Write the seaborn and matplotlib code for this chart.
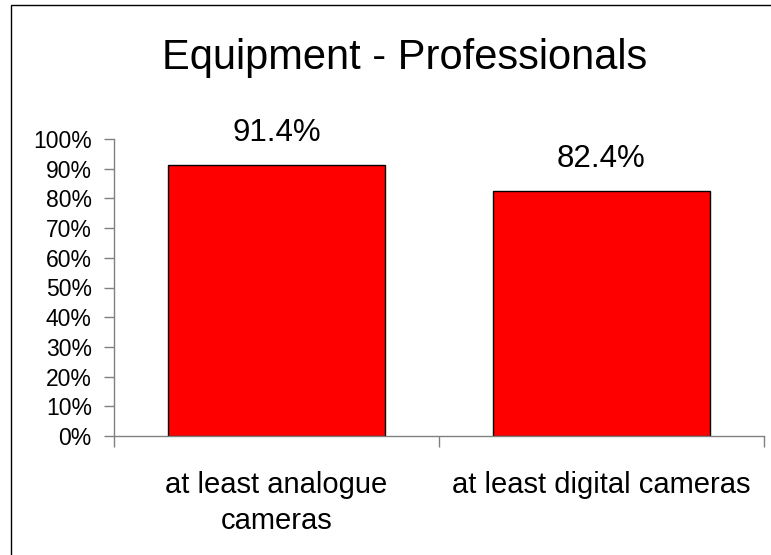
import matplotlib
matplotlib.use("Agg")
import matplotlib.pyplot as plt
import seaborn as sns
import pandas as pd
from matplotlib.patches import Rectangle

categories = ["at least analogue\ncameras", "at least digital cameras"]
values = [91.4, 82.4]
y_ticks = [0, 10, 20, 30, 40, 50, 60, 70, 80, 90, 100]
title = "Equipment - Professionals"

sns.set_theme(style="white")
plt.rcParams["font.family"] = ["Liberation Sans", "DejaVu Sans"]

df = pd.DataFrame({"category": categories, "value": values})

fig = plt.figure(figsize=(7.71, 5.55), dpi=100)
ax = fig.add_axes([114 / 771, 1 - 436 / 555, (764 - 114) / 771, (436 - 139) / 555])

sns.barplot(data=df, x="category", y="value", color="#ff0000", saturation=1,
            edgecolor="black", linewidth=1, width=0.67, ax=ax)

ax.set_xlim(-0.5, 1.5)
ax.set_ylim(0, 100)
ax.set_yticks(y_ticks)
ax.set_yticklabels([f"{t}%" for t in y_ticks], fontsize=16.5, color="black")
ax.set_xlabel("")
ax.set_ylabel("")

# category labels under the axis, ticks at the category boundaries
ax.set_xticks([0, 1])
ax.set_xticklabels(categories, fontsize=21, color="black", linespacing=1.36)
ax.set_xticks([-0.5, 0.5, 1.5], minor=True)
ax.tick_params(axis="x", which="major", length=0, pad=25)
ax.tick_params(axis="x", which="minor", length=8, width=1, color="#808080", direction="out", bottom=True)
ax.tick_params(axis="y", which="major", length=7, width=1, color="#808080", direction="out", left=True, pad=9)

for side in ["top", "right"]:
    ax.spines[side].set_visible(False)
for side in ["left", "bottom"]:
    ax.spines[side].set_color("#808080")
    ax.spines[side].set_linewidth(1)

# value labels above bars
for i, v in enumerate(values):
    ax.annotate(f"{v:.1f}%", xy=(i, v), xytext=(0, 23), textcoords="offset points",
                ha="center", va="center", fontsize=22.5, color="black")

fig.text(405 / 771, 1 - 58 / 555, title, ha="center", va="center", fontsize=30, color="black")

# chart border
fig.patches.append(Rectangle((11 / 771, -0.01), 1.0, 1 - 5 / 555 + 0.01, transform=fig.transFigure,
                             fill=False, edgecolor="black", linewidth=1))

fig.savefig("out.png", dpi=100)
